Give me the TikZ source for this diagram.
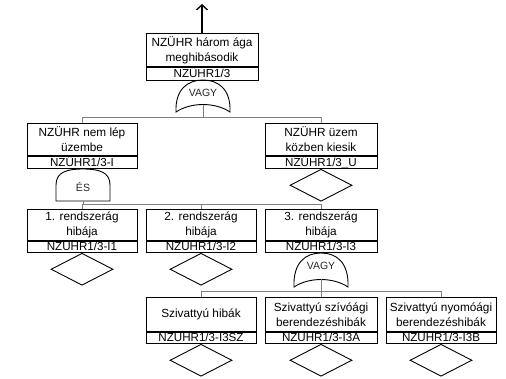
\documentclass[tikz,border=0pt]{standalone}
\usepackage{fontspec}
\setmainfont{Liberation Sans}
\usetikzlibrary{shapes.geometric,arrows.meta}

% OR gate outline: centre x, top y, bottom y
\newcommand\orgateshape[3]{%
  \draw[gateline] (#1-27,#3) .. controls (#1-28,#2+9) and (#1-15,#2) .. (#1,#2)
    .. controls (#1+15,#2) and (#1+28,#2+9) .. (#1+27,#3)
    .. controls (#1+12,#3-10) and (#1-12,#3-10) .. cycle;}
% AND gate outline: centre x, top y, bottom y
\newcommand\andgateshape[3]{%
  \draw[gateline] (#1-27,#3) -- (#1-27,#2+16)
    .. controls (#1-27,#2+3) and (#1-16,#2) .. (#1,#2)
    .. controls (#1+16,#2) and (#1+27,#2+3) .. (#1+27,#2+16)
    -- (#1+27,#3) -- cycle;}

\begin{document}
\begin{tikzpicture}[x=1pt,y=-1pt,
  titlebox/.style={draw=black, line width=0.9pt, minimum width=110pt,
    minimum height=32pt, inner sep=0pt, align=center, anchor=north,
    font=\fontsize{11.8}{15}\selectfont},
  codebox/.style={draw=black, line width=0.9pt, minimum width=110pt,
    minimum height=12pt, inner sep=0pt, anchor=north,
    text height=9.6pt, text depth=1.4pt,
    font=\fontsize{11.6}{12}\selectfont},
  basic/.style={diamond, draw=black, line width=0.9pt, minimum width=62pt,
    minimum height=32pt, inner sep=0pt, anchor=north},
  gatetext/.style={inner sep=0pt, text=black!85, font=\fontsize{10.5}{11}\selectfont},
  gateline/.style={draw=black, line width=0.9pt},
  conn/.style={draw=black!50, line width=0.8pt},
  toparrow/.style={line width=1.3pt, -{Straight Barb[length=5pt,width=11pt]}}
]
\useasboundingbox (0,0) rectangle (506,378);

% ---- top event
\node[titlebox, minimum width=112pt, minimum height=33pt] (n1) at (202,33)
  {NZÜHR három ága\\meghibásodik};
\node[codebox, minimum width=112pt, minimum height=13pt] (c1) at (n1.south) {NZÜHR1/3};
\coordinate (out) at (202,4);
\draw[toparrow] (n1.north) -- (out);

% ---- gate under top event
\orgateshape{203}{80}{112}
\node[gatetext] (g1) at (203,93) {VAGY};
\coordinate (g1o) at (203,104.5);
\coordinate (bus1) at (203,117);

% ---- second level
\node[titlebox] (n2a) at (82,123) {NZÜHR nem lép\\üzembe};
\node[codebox] (c2a) at (n2a.south) {NZÜHR1/3-I};
\node[titlebox, minimum width=112pt] (n2b) at (321,123) {NZÜHR üzem\\közben kiesik};
\node[codebox, minimum width=112pt] (c2b) at (n2b.south) {NZÜHR1/3\_U};
\node[basic] (d2b) at (c2b.south) {};

\draw[conn] (g1o) -- (bus1);
\draw[conn] (bus1) -| (n2a.north);
\draw[conn] (bus1) -| (n2b.north);

% ---- AND gate under left branch
\andgateshape{83}{169}{201}
\node[gatetext] (g2) at (83,187) {ÉS};
\coordinate (g2o) at (83,201);
\coordinate (bus2) at (83,204);

% ---- third level
\node[titlebox, minimum height=31pt] (n3a) at (82,209) {1. rendszerág\\hibája};
\node[codebox, minimum height=11pt] (c3a) at (n3a.south) {NZÜHR1/3-I1};
\node[basic] (d3a) at (c3a.south) {};
\node[titlebox, minimum height=31pt] (n3b) at (201,209) {2. rendszerág\\hibája};
\node[codebox, minimum height=11pt] (c3b) at (n3b.south) {NZÜHR1/3-I2};
\node[basic] (d3b) at (c3b.south) {};
\node[titlebox, minimum width=112pt, minimum height=31pt] (n3c) at (321,209) {3. rendszerág\\hibája};
\node[codebox, minimum width=112pt, minimum height=11pt] (c3c) at (n3c.south) {NZÜHR1/3-I3};

\draw[conn] (g2o) -- (bus2);
\draw[conn] (bus2) -| (n3a.north);
\draw[conn] (bus2) -| (n3b.north);
\draw[conn] (bus2) -| (n3c.north);

% ---- OR gate under third branch
\orgateshape{321}{253}{287}
\node[gatetext] (g3) at (321,266) {VAGY};
\coordinate (g3o) at (321,279);
\coordinate (bus3) at (321,291);

% ---- fourth level
\node[titlebox, minimum height=34pt] (n4a) at (201,297) {Szivattyú hibák};
\node[codebox, minimum height=11pt] (c4a) at (n4a.south) {NZÜHR1/3-I3SZ};
\node[basic] (d4a) at (c4a.south) {};
\node[titlebox, minimum width=112pt, minimum height=34pt] (n4b) at (321,297) {Szivattyú szívóági\\berendezéshibák};
\node[codebox, minimum width=112pt, minimum height=11pt] (c4b) at (n4b.south) {NZÜHR1/3-I3A};
\node[basic] (d4b) at (c4b.south) {};
\node[titlebox, minimum height=34pt] (n4c) at (441,297) {Szivattyú nyomóági\\berendezéshibák};
\node[codebox, minimum height=11pt] (c4c) at (n4c.south) {NZÜHR1/3-I3B};
\node[basic] (d4c) at (c4c.south) {};

\draw[conn] (g3o) -- (bus3);
\draw[conn] (bus3) -| (n4a.north);
\draw[conn] (bus3) -| (n4b.north);
\draw[conn] (bus3) -| (n4c.north);
\end{tikzpicture}
\end{document}
